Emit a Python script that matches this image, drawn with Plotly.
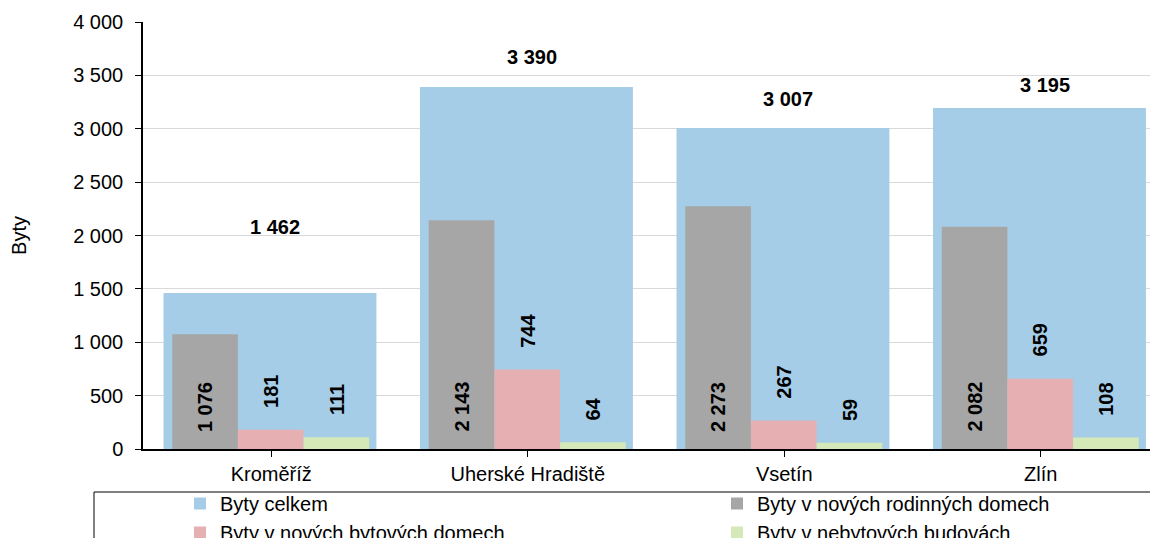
import plotly.graph_objects as go

# ---- data ----
okresy = ["Kroměříž", "Uherské Hradiště", "Vsetín", "Zlín"]
byty_celkem = [1462, 3390, 3007, 3195]
byty_rodinne = [1076, 2143, 2273, 2082]
byty_bytove = [181, 744, 267, 659]
byty_nebytove = [111, 64, 59, 108]
y_ticks = [0, 500, 1000, 1500, 2000, 2500, 3000, 3500, 4000]

# ---- styling ----
FONT = "Liberation Sans, Arial, sans-serif"
C_BLUE = "#A6CDE7"
C_GRAY = "#A6A6A6"
C_PINK = "#E6AFB1"
C_GREEN = "#D4E8B8"
WIDE_W, WIDE_OFF = 0.83, -0.42
NARROW_W = 0.256
OFFS = [-0.386, -0.130, 0.126]
total_lift = [66, 30, 29, 23]  # px above bar top for total labels
LBL = dict(family=FONT, size=20, color="black", weight="bold")


def fmt(v):
    return f"{v:,}".replace(",", " ")


xi = list(range(len(okresy)))
fig = go.Figure()
fig.add_trace(go.Bar(x=xi, y=byty_celkem, name="Byty celkem", marker_color=C_BLUE,
                     width=WIDE_W, offset=WIDE_OFF, marker_line_width=0))
series = [("Byty v nových rodinných domech", byty_rodinne, C_GRAY),
          ("Byty v nových bytových domech", byty_bytove, C_PINK),
          ("Byty v nebytových budovách", byty_nebytove, C_GREEN)]
for (name, vals, col), off in zip(series, OFFS):
    fig.add_trace(go.Bar(x=xi, y=vals, name=name, marker_color=col,
                         width=NARROW_W, offset=off, marker_line_width=0))

ann = []
for i in xi:
    ann.append(dict(x=i, y=byty_celkem[i], text=fmt(byty_celkem[i]), showarrow=False,
                    yanchor="middle", yshift=total_lift[i], xshift=4, font=LBL))
    ann.append(dict(x=i + OFFS[0] + NARROW_W / 2, y=0, text=fmt(byty_rodinne[i]), showarrow=False,
                    textangle=-90, yanchor="bottom", yshift=15, font=LBL))
    ann.append(dict(x=i + OFFS[1] + NARROW_W / 2, y=byty_bytove[i], text=fmt(byty_bytove[i]), showarrow=False,
                    textangle=-90, yanchor="bottom", yshift=20, font=LBL))
    ann.append(dict(x=i + OFFS[2] + NARROW_W / 2, y=byty_nebytove[i], text=fmt(byty_nebytove[i]), showarrow=False,
                    textangle=-90, yanchor="bottom", yshift=20, font=LBL))

# page body has an 8px margin: positions below are in figure px (screen px - 8)
W, H = 1158, 538
ML, MR, MT, MB = 135, 8, 14, 97
pw, ph = W - ML - MR, H - MT - MB
cat_px = 256.5
xr = [-0.5, -0.5 + pw / cat_px]


def px2paper_x(px):
    return (px - ML) / pw


def px2paper_y(py):
    return (H - MB - py) / ph


fig.update_layout(
    width=W, height=H,
    margin=dict(l=ML, r=MR, t=MT, b=MB, autoexpand=False),
    paper_bgcolor="white", plot_bgcolor="white",
    barmode="overlay",
    font=dict(family=FONT, size=20, color="black"),
    showlegend=True,
    legend=dict(orientation="h", x=px2paper_x(82), xanchor="left",
                y=px2paper_y(476), yanchor="top",
                entrywidth=492, entrywidthmode="pixels",
                title=dict(text="\u00a0" * 12, side="left"),
                font=dict(family=FONT, size=20, color="black"),
                bgcolor="rgba(0,0,0,0)", traceorder="normal"),
    xaxis=dict(tickmode="array", tickvals=xi, ticktext=okresy, range=xr,
               showline=True, linecolor="black", linewidth=1.5,
               ticks="outside", tickson="boundaries", ticklen=6, tickcolor="black",
               showgrid=False, zeroline=False, tickfont=dict(size=20)),
    yaxis=dict(range=[0, 4000], tickvals=y_ticks, ticktext=[fmt(v) for v in y_ticks],
               showline=True, linecolor="black", linewidth=1.5,
               ticks="outside", ticklen=6, tickcolor="black", ticklabelstandoff=8,
               showgrid=True, gridcolor="#D9D9D9", gridwidth=1, zeroline=False,
               title=dict(text="Byty", standoff=42, font=dict(size=20)),
               tickfont=dict(size=20)),
    annotations=ann,
    shapes=[dict(type="rect", xref="paper", yref="paper",
                 x0=px2paper_x(86), x1=px2paper_x(1200),
                 y0=px2paper_y(484), y1=px2paper_y(600),
                 line=dict(color="black", width=1), fillcolor="rgba(0,0,0,0)", layer="above")],
)

fig.write_html("out.html")
